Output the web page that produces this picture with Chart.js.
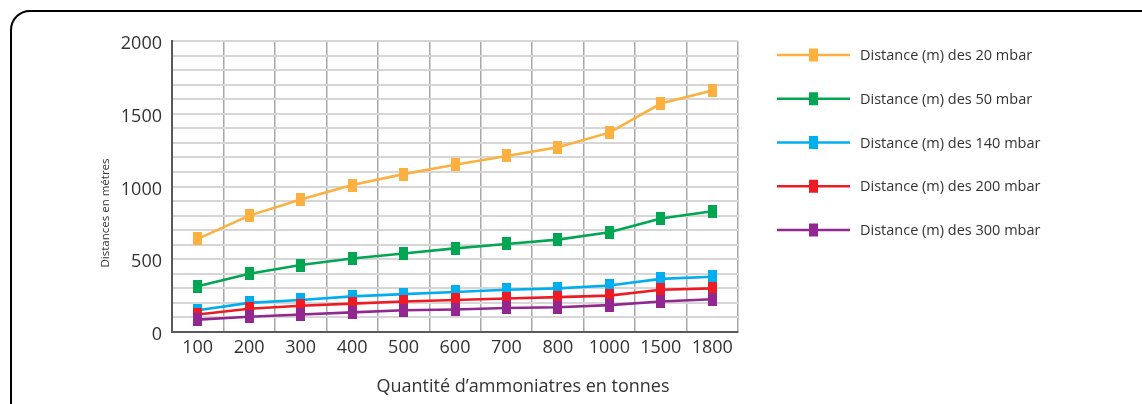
<!DOCTYPE html>
<html>
<head>
<meta charset="utf-8">
<script src="https://cdn.jsdelivr.net/npm/chart.js@4.4.0/dist/chart.umd.min.js"></script>
<style>
  html, body { margin: 0; padding: 0; background: #fff; overflow: hidden; }
  #wrap { position: relative; width: 1142px; height: 404px; overflow: hidden; }
  #frame {
    position: absolute; left: 10px; top: 10px; width: 1200px; height: 500px;
    border: 2px solid #000; border-top-left-radius: 20px; box-sizing: border-box;
  }
  #chart { position: absolute; left: 0; top: 0; }
</style>
</head>
<body>
<div id="wrap">
  <div id="frame"></div>
  <canvas id="chart" width="1142" height="404"></canvas>
</div>
<script>
  // tonnes of ammonium nitrate fertiliser
  const quantities = ["100", "200", "300", "400", "500", "600", "700", "800", "1000", "1500", "1800"];

  // distances (m) per overpressure threshold
  const dist20 = [640, 800, 910, 1010, 1085, 1150, 1210, 1270, 1370, 1570, 1660];
  const dist50 = [315, 400, 460, 505, 540, 575, 605, 635, 685, 780, 830];
  const dist140 = [150, 200, 220, 245, 260, 275, 290, 300, 320, 365, 380];
  const dist200 = [120, 160, 180, 195, 210, 220, 230, 240, 250, 290, 300];
  const dist300 = [85, 105, 120, 135, 150, 155, 165, 170, 185, 210, 225];

  const seriesNames = [
    "Distance (m) des 20 mbar",
    "Distance (m) des 50 mbar",
    "Distance (m) des 140 mbar",
    "Distance (m) des 200 mbar",
    "Distance (m) des 300 mbar"
  ];
  const seriesColors = ["#FBB040", "#00A651", "#00AEEF", "#ED1C24", "#92278F"];

  const yTitle = "Distances en métres";
  const xTitle = "Quantité d’ammoniatres en tonnes";

  const FONT = "'Open Sans', 'DejaVu Sans', sans-serif";
  const TXT = "#333333";

  // small 9x13 rectangle used as the marker
  const makeMarker = (color) => {
    const c = document.createElement("canvas");
    c.width = 9;
    c.height = 13;
    const cx = c.getContext("2d");
    cx.fillStyle = color;
    cx.fillRect(0, 0, 9, 13);
    return c;
  };

  const allData = [dist20, dist50, dist140, dist200, dist300];

  const datasets = allData.map((d, i) => ({
    label: seriesNames[i],
    data: d,
    borderColor: seriesColors[i],
    backgroundColor: seriesColors[i],
    borderWidth: 2.6,
    pointStyle: makeMarker(seriesColors[i]),
    pointRadius: 5,
    pointHoverRadius: 5,
    tension: 0,
    order: allData.length - i // last series painted on top
  }));

  // legend on the right + the two axis titles
  const decorPlugin = {
    id: "decor",
    afterDraw(chart) {
      const ctx = chart.ctx;
      ctx.save();

      // legend
      const x0 = 777, x1 = 850, textX = 860;
      ctx.font = "14.5px " + FONT;
      ctx.textBaseline = "middle";
      ctx.textAlign = "left";
      seriesNames.forEach((name, i) => {
        const y = 55 + i * 43.75;
        ctx.strokeStyle = seriesColors[i];
        ctx.lineWidth = 2.7;
        ctx.beginPath();
        ctx.moveTo(x0, y);
        ctx.lineTo(x1, y);
        ctx.stroke();
        ctx.fillStyle = seriesColors[i];
        ctx.fillRect(809, y - 6.5, 9, 13);
        ctx.fillStyle = TXT;
        ctx.fillText(name, textX, y + 1);
      });

      // x title
      ctx.font = "18px " + FONT;
      ctx.textAlign = "center";
      ctx.fillStyle = TXT;
      ctx.fillText(xTitle, 523, 387);

      // y title (rotated)
      ctx.translate(106, 213);
      ctx.rotate(-Math.PI / 2);
      ctx.font = "11.5px " + FONT;
      ctx.fillText(yTitle, 0, 0);

      ctx.restore();
    }
  };

  new Chart(document.getElementById("chart"), {
    type: "line",
    data: { labels: quantities, datasets: datasets },
    options: {
      responsive: false,
      animation: false,
      layout: { padding: { left: 0, right: 404, top: 41, bottom: 0 } },
      plugins: {
        legend: { display: false },
        tooltip: { enabled: false }
      },
      scales: {
        x: {
          offset: true,
          grid: {
            offset: true,
            drawTicks: false,
            color: "#a8a8a8",
            lineWidth: 1.5
          },
          border: { color: "#5a5a5a", width: 2 },
          ticks: {
            color: TXT,
            font: { family: FONT, size: 18 },
            padding: 5,
            maxRotation: 0,
            autoSkip: false
          },
          afterFit: (scale) => { scale.height = 72; }
        },
        y: {
          min: 0,
          max: 2000,
          grid: {
            drawTicks: false,
            color: "#d6d6d6",
            lineWidth: 2
          },
          border: { color: "#5a5a5a", width: 2 },
          ticks: {
            stepSize: 100,
            autoSkip: false,
            color: TXT,
            font: { family: FONT, size: 18 },
            padding: 10,
            labelOffset: 3,
            callback: (v) => (v % 500 === 0 ? v : "")
          },
          afterFit: (scale) => { scale.width = 172; }
        }
      }
    },
    plugins: [decorPlugin]
  });
</script>
</body>
</html>
